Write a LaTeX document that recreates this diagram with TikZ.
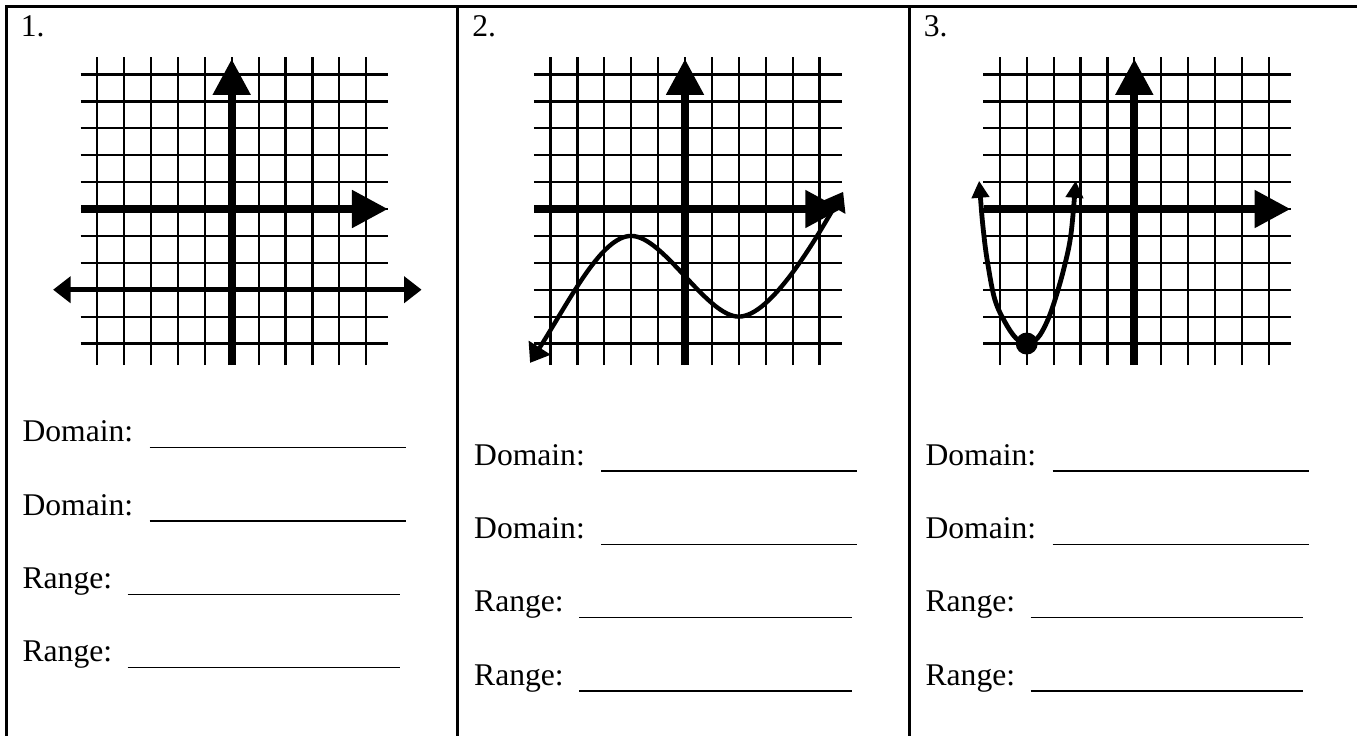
\documentclass[tikz,border=0pt]{standalone}
\usepackage{fontspec}
\setmainfont{Liberation Serif}
\usetikzlibrary{arrows.meta,positioning}

\begin{document}
\begin{tikzpicture}[
    x=0.5pt, y=-0.5pt,
    frame/.style={line width=1.5pt},
    gridline/.style={line width=1.1pt},
    axis/.style={line width=4pt, -{Triangle[length=18pt, width=18pt]}},
    twoway/.style={line width=2.5pt, {Triangle[length=8.8pt, width=13pt]}-{Triangle[length=8.8pt, width=13pt]}},
    cubic/.style={line width=2.2pt, {Triangle[length=9pt, width=12.5pt]}-{Triangle[length=9pt, width=12.5pt]}},
    parab/.style={line width=2.4pt, {Triangle[length=8.5pt, width=8.5pt]}-{Triangle[length=8.5pt, width=8.5pt]}},
    qtext/.style={anchor=base west, inner sep=0pt, font=\fontsize{15.8}{18}\selectfont},
    blank/.style={line width=0.7pt},
]
\useasboundingbox (0,0) rectangle (1359,736);

% Frame
\draw[frame] (5,6.5) -- (1357,6.5);
\draw[frame] (6.5,6.5) -- (6.5,736);
\draw[frame] (457.7,6.5) -- (457.7,736);
\draw[frame] (909.5,6.5) -- (909.5,736);

% Panel 1
\begin{scope}[shift={(231.7,209)}, x=13.45pt, y=13.45pt]
\draw[gridline, step=1] (-5.62,-5.8) grid (5.82,5.65);
\draw[axis] (0,-5.8) -- (0,5.58);
\draw[axis] (-5.6,0) -- (5.81,0);
\draw[twoway] (-6.64,-3) -- (7.06,-3);
\end{scope}

% Panel 2
\begin{scope}[shift={(685,209)}, x=13.45pt, y=13.45pt]
\draw[gridline, step=1] (-5.62,-5.8) grid (5.82,5.65);
\draw[axis] (0,-5.8) -- (0,5.58);
\draw[axis] (-5.6,0) -- (5.81,0);
\draw[cubic] (-5.76,-5.72) .. controls (-4.26,-3.35) and (-3.1,-1) .. (-2,-1)
    .. controls (-0.8,-1) and (0.8,-4) .. (2,-4)
    .. controls (3.2,-4) and (4.88,-1.08) .. (5.88,0.64);
\end{scope}

% Panel 3
\begin{scope}[shift={(1134.3,209)}, x=13.45pt, y=13.45pt]
\draw[gridline, step=1] (-5.62,-5.8) grid (5.82,5.65);
\draw[axis] (0,-5.8) -- (0,5.58);
\draw[axis] (-5.59,0) -- (5.81,0);
\draw[parab] plot[smooth, tension=0.6] coordinates {(-5.77,1.05) (-5.6,-0.9)
    (-5.43,-2.14) (-5.18,-3.38) (-4.81,-4.2) (-4.4,-4.8) (-4,-5) (-3.6,-4.8)
    (-3.25,-4.2) (-2.95,-3.38) (-2.6,-2.14) (-2.35,-0.9) (-2.18,1.05)};
\fill (-4,-5) circle (5.5pt);
\end{scope}

% Numbers
\node[qtext] (num1) at (20.5,36.5) {1.};
\node[qtext] (num2) at (472,36.5) {2.};
\node[qtext] (num3) at (923.5,36.5) {3.};

% Answer lines, panel 1
\node[qtext] (dom1a) at (22.2,441.7) {Domain:};
\node[qtext] (dom1b) at (22.2,515) {Domain:};
\node[qtext] (ran1a) at (22.2,588.3) {Range:};
\node[qtext] (ran1b) at (22.2,661.7) {Range:};
\draw[blank] ([shift={(127.3,6)}]dom1a.base west) -- ++(256,0);
\draw[blank] ([shift={(127.3,6)}]dom1b.base west) -- ++(256,0);
\draw[blank] ([shift={(105.5,6)}]ran1a.base west) -- ++(272.5,0);
\draw[blank] ([shift={(105.5,6)}]ran1b.base west) -- ++(272.5,0);

% Answer lines, panel 2
\node[qtext] (dom2a) at (473.8,465) {Domain:};
\node[qtext] (dom2b) at (473.8,538.3) {Domain:};
\node[qtext] (ran2a) at (473.8,611.7) {Range:};
\node[qtext] (ran2b) at (473.8,685) {Range:};
\draw[blank] ([shift={(127.3,6)}]dom2a.base west) -- ++(256,0);
\draw[blank] ([shift={(127.3,6)}]dom2b.base west) -- ++(256,0);
\draw[blank] ([shift={(105.5,6)}]ran2a.base west) -- ++(272.5,0);
\draw[blank] ([shift={(105.5,6)}]ran2b.base west) -- ++(272.5,0);

% Answer lines, panel 3
\node[qtext] (dom3a) at (925.2,465) {Domain:};
\node[qtext] (dom3b) at (925.2,538.3) {Domain:};
\node[qtext] (ran3a) at (925.2,611.7) {Range:};
\node[qtext] (ran3b) at (925.2,685) {Range:};
\draw[blank] ([shift={(127.3,6)}]dom3a.base west) -- ++(256,0);
\draw[blank] ([shift={(127.3,6)}]dom3b.base west) -- ++(256,0);
\draw[blank] ([shift={(105.5,6)}]ran3a.base west) -- ++(272.5,0);
\draw[blank] ([shift={(105.5,6)}]ran3b.base west) -- ++(272.5,0);
\end{tikzpicture}
\end{document}
